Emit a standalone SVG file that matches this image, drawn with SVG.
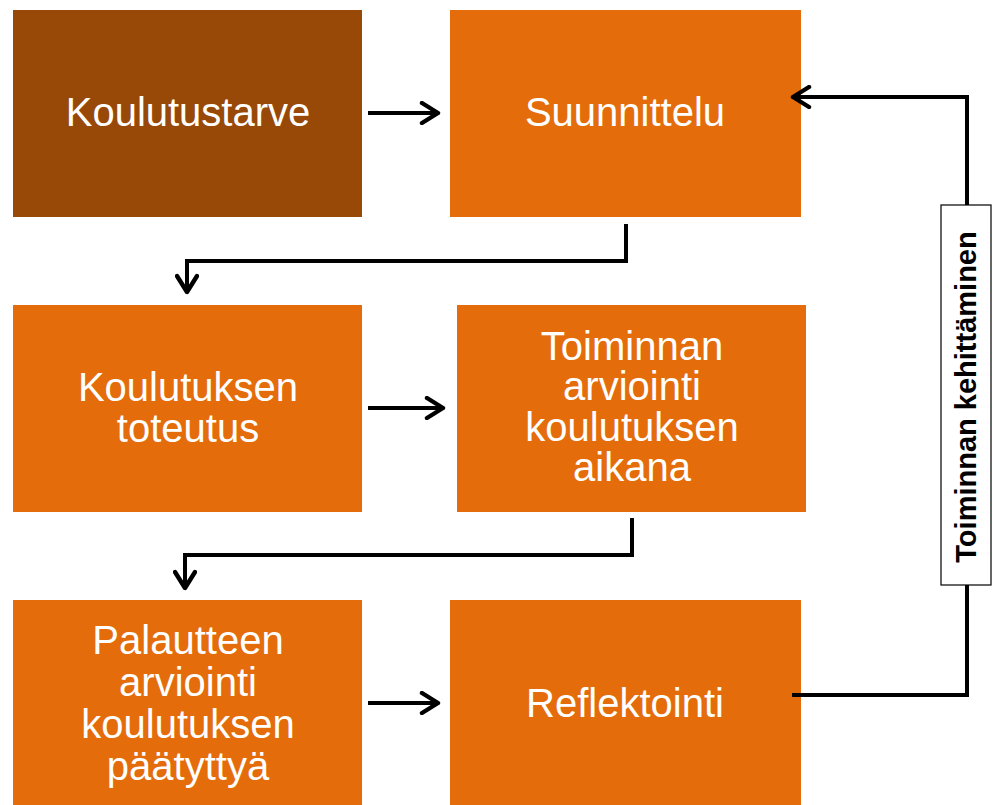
<svg xmlns="http://www.w3.org/2000/svg" width="995" height="805" viewBox="0 0 995 805">
<style>
.box{fill:#E46C0A}
.dark{fill:#984807}
.t{font-family:"Liberation Sans",Arial,sans-serif;font-size:40px;fill:#fff;text-anchor:middle}
.c{fill:none;stroke:#000;stroke-width:4}
.lbl{font-family:"Liberation Sans",Arial,sans-serif;font-size:29px;font-weight:bold;fill:#000;text-anchor:middle}
</style>
<defs>
<marker id="ah" viewBox="0 0 12 12" refX="10" refY="6" markerWidth="6" markerHeight="6" markerUnits="strokeWidth" orient="auto">
<path d="M2,1 L10,6 L2,11" fill="none" stroke="#000" stroke-width="2.2" stroke-linecap="round" stroke-linejoin="round"/>
</marker>
</defs>
<rect width="995" height="805" fill="#fff"/>
<g id="n1"><rect class="dark" x="13" y="10" width="349" height="207"/><text class="t" x="188" y="126">Koulutustarve</text></g>
<g id="n2"><rect class="box" x="450" y="10" width="351" height="207"/><text class="t" x="625" y="126">Suunnittelu</text></g>
<g id="n3"><rect class="box" x="13" y="305" width="349" height="207"/><text class="t" x="188" y="401">Koulutuksen</text><text class="t" x="188" y="442">toteutus</text></g>
<g id="n4"><rect class="box" x="457" y="305" width="349" height="207"/><text class="t" x="632" y="360">Toiminnan</text><text class="t" x="632" y="400">arviointi</text><text class="t" x="632" y="441">koulutuksen</text><text class="t" x="632" y="481">aikana</text></g>
<g id="n5"><rect class="box" x="13" y="600" width="349" height="205"/><text class="t" x="188" y="654">Palautteen</text><text class="t" x="188" y="696">arviointi</text><text class="t" x="188" y="738">koulutuksen</text><text class="t" x="188" y="780">päätyttyä</text></g>
<g id="n6"><rect class="box" x="450" y="600" width="351" height="205"/><text class="t" x="625" y="717">Reflektointi</text></g>
<g id="label"><rect x="941" y="205" width="50" height="380" fill="#fff" stroke="#000" stroke-width="1.2"/><text class="lbl" transform="translate(976,397) rotate(-90)">Toiminnan kehittäminen</text></g>
<g id="connectors">
<path class="c" d="M368,113 H438" marker-end="url(#ah)"/>
<path class="c" d="M368,408 H443" marker-end="url(#ah)"/>
<path class="c" d="M368,703 H438" marker-end="url(#ah)"/>
<path class="c" d="M626,224 V261 H187 V292" marker-end="url(#ah)"/>
<path class="c" d="M632,518 V555 H185 V588" marker-end="url(#ah)"/>
<path class="c" d="M792,695 H967 V585"/>
<path class="c" d="M967,205 V97 H793" marker-end="url(#ah)"/>
</g>
</svg>
